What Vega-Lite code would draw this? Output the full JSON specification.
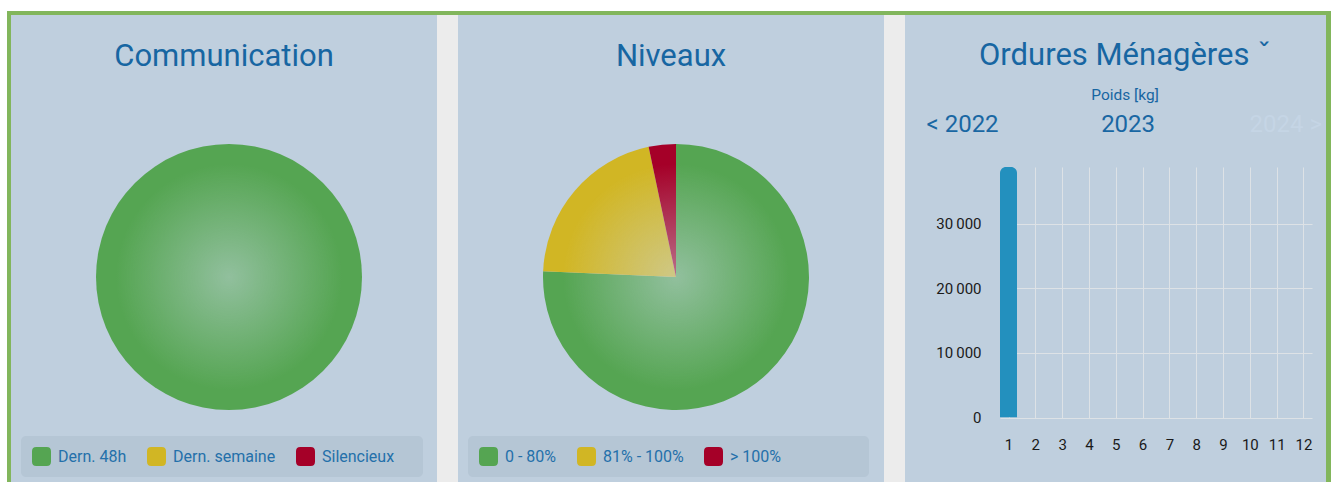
{
  "$schema": "https://vega.github.io/schema/vega-lite/v6.json",
  "background": "#bfcfde",
  "padding": 0,
  "spacing": 0,
  "config": {
    "font": "Roboto",
    "view": {"stroke": null},
    "concat": {"spacing": 0}
  },
  "resolve": {"scale": {"color": "independent"}, "legend": {"color": "independent"}},
  "datasets": {
    "none": [],
    "glow": [{"disque": "centre"}],
    "communication": [
      {"statut": "Dern. 48h", "capteurs": 100},
      {"statut": "Dern. semaine", "capteurs": 0},
      {"statut": "Silencieux", "capteurs": 0}
    ],
    "niveaux": [
      {"niveau": "0 - 80%", "capteurs": 75.7},
      {"niveau": "81% - 100%", "capteurs": 21.0},
      {"niveau": "> 100%", "capteurs": 3.3}
    ],
    "poids": [
      {"mois": 1, "kg": 38750},
      {"mois": 2, "kg": null},
      {"mois": 3, "kg": null},
      {"mois": 4, "kg": null},
      {"mois": 5, "kg": null},
      {"mois": 6, "kg": null},
      {"mois": 7, "kg": null},
      {"mois": 8, "kg": null},
      {"mois": 9, "kg": null},
      {"mois": 10, "kg": null},
      {"mois": 11, "kg": null},
      {"mois": 12, "kg": null}
    ]
  },
  "hconcat": [
    {"width": 7, "height": 482, "data": {"name": "none"}, "mark": "rect", "view": {"fill": "#ffffff"}},
    {
      "spacing": 0,
      "resolve": {"scale": {"color": "independent"}, "legend": {"color": "independent"}},
      "vconcat": [
        {"width": 1324, "height": 11, "data": {"name": "none"}, "mark": "rect", "view": {"fill": "#ffffff"}},
        {"width": 1324, "height": 4, "data": {"name": "none"}, "mark": "rect", "view": {"fill": "#82b65c"}},
        {
          "spacing": 0,
          "resolve": {"scale": {"color": "independent"}, "legend": {"color": "independent"}},
          "hconcat": [
            {"width": 4, "height": 467, "data": {"name": "none"}, "mark": "rect", "view": {"fill": "#82b65c"}},
            {
              "width": 426,
              "height": 467,
              "title": {"text": "Communication", "offset": -58, "fontSize": 31, "fontWeight": "normal", "color": "#1766a2", "anchor": "middle"},
              "layer": [
                {
                  "data": {"name": "communication"},
                  "mark": {"type": "arc", "outerRadius": 133, "xOffset": 5, "yOffset": 28.5},
                  "encoding": {
                    "theta": {"field": "capteurs", "type": "quantitative", "stack": true},
                    "order": {"field": "capteurs", "sort": "descending"},
                    "color": {
                      "field": "statut", "type": "nominal",
                      "scale": {"domain": ["Dern. 48h", "Dern. semaine", "Silencieux"], "range": ["#55a552", "#d1b624", "#a50028"]},
                      "legend": {
                        "orient": "none", "legendX": 10, "legendY": 421, "direction": "horizontal",
                        "symbolType": "M-1,-0.55Q-1,-1,-0.55,-1L0.55,-1Q1,-1,1,-0.55L1,0.55Q1,1,0.55,1L-0.55,1Q-1,1,-1,0.55Z",
                        "symbolSize": 361, "symbolStrokeWidth": 0, "symbolOpacity": 1,
                        "labelFontSize": 16, "labelColor": "#2470aa", "labelOffset": 7, "columnPadding": 20,
                        "padding": 11, "fillColor": "#b5c6d5", "cornerRadius": 5,
                        "title": "\u2800\u2800\u2800", "titleOrient": "right", "titlePadding": 0, "titleFontSize": 8.2, "titleColor": "#b5c6d5"
                      }
                    }
                  }
                },
                {
                  "data": {"name": "glow"},
                  "mark": {
                    "type": "arc", "theta": 0, "theta2": 6.2832, "outerRadius": 133, "xOffset": 5, "yOffset": 28.5,
                    "fill": {"gradient": "radial", "x1": 0.5, "y1": 0.5, "r1": 0, "x2": 0.5, "y2": 0.5, "r2": 0.5,
                      "stops": [{"offset": 0, "color": "rgba(205,218,232,0.5)"}, {"offset": 0.85, "color": "rgba(205,218,232,0)"}, {"offset": 1, "color": "rgba(205,218,232,0)"}]}
                  },
                  "encoding": {}
                }
              ]
            },
            {"width": 21, "height": 467, "data": {"name": "none"}, "mark": "rect", "view": {"fill": "#ececec"}},
            {
              "width": 426,
              "height": 467,
              "title": {"text": "Niveaux", "offset": -58, "fontSize": 31, "fontWeight": "normal", "color": "#1766a2", "anchor": "middle"},
              "layer": [
                {
                  "data": {"name": "niveaux"},
                  "mark": {"type": "arc", "outerRadius": 133, "xOffset": 5, "yOffset": 28.5},
                  "encoding": {
                    "theta": {"field": "capteurs", "type": "quantitative", "stack": true},
                    "order": {"field": "capteurs", "sort": "descending"},
                    "color": {
                      "field": "niveau", "type": "nominal",
                      "scale": {"domain": ["0 - 80%", "81% - 100%", "> 100%"], "range": ["#55a552", "#d1b624", "#a50028"]},
                      "legend": {
                        "orient": "none", "legendX": 10, "legendY": 421, "direction": "horizontal",
                        "symbolType": "M-1,-0.55Q-1,-1,-0.55,-1L0.55,-1Q1,-1,1,-0.55L1,0.55Q1,1,0.55,1L-0.55,1Q-1,1,-1,0.55Z",
                        "symbolSize": 361, "symbolStrokeWidth": 0, "symbolOpacity": 1,
                        "labelFontSize": 16, "labelColor": "#2470aa", "labelOffset": 7, "columnPadding": 20,
                        "padding": 11, "fillColor": "#b5c6d5", "cornerRadius": 5,
                        "title": "\u2800\u2800\u2800\u2800\u2800\u2800\u2800\u2800\u2800\u2800\u2800", "titleOrient": "right", "titlePadding": 0, "titleFontSize": 9.0, "titleColor": "#b5c6d5"
                      }
                    }
                  }
                },
                {
                  "data": {"name": "glow"},
                  "mark": {
                    "type": "arc", "theta": 0, "theta2": 6.2832, "outerRadius": 133, "xOffset": 5, "yOffset": 28.5,
                    "fill": {"gradient": "radial", "x1": 0.5, "y1": 0.5, "r1": 0, "x2": 0.5, "y2": 0.5, "r2": 0.5,
                      "stops": [{"offset": 0, "color": "rgba(205,218,232,0.5)"}, {"offset": 0.85, "color": "rgba(205,218,232,0)"}, {"offset": 1, "color": "rgba(205,218,232,0)"}]}
                  },
                  "encoding": {}
                }
              ]
            },
            {"width": 21, "height": 467, "data": {"name": "none"}, "mark": "rect", "view": {"fill": "#ececec"}},
            {
              "spacing": 0,
              "vconcat": [
                {"width": 421, "height": 24, "data": {"name": "none"}, "mark": "rect"},
                {
                  "spacing": 0,
                  "hconcat": [
                    {"width": 21, "height": 10, "data": {"name": "none"}, "mark": "rect"},
                    {
                      "width": 312,
                      "height": 250.6,
                      "data": {"name": "poids"},
                      "title": {
                        "text": "Ordures Ménagères    ˇ", "subtitle": "Poids [kg]\u00a0\u00a0\u00a0\u00a0\u00a0\u00a0",
                        "anchor": "middle", "frame": "group", "dx": -31, "offset": 8,
                        "fontSize": 31, "fontWeight": "normal", "color": "#1766a2",
                        "subtitleFontSize": 15.5, "subtitleColor": "#1766a2", "subtitlePadding": 16
                      },
                      "resolve": {"axis": {"x": "independent"}},
                      "layer": [
                        {
                          "mark": {"type": "bar", "width": 17, "color": "#2390be", "cornerRadiusTopLeft": 6, "cornerRadiusTopRight": 6},
                          "encoding": {
                            "x": {
                              "field": "mois", "type": "ordinal",
                              "scale": {"type": "point", "domain": [1, 2, 3, 4, 5, 6, 7, 8, 9, 10, 11, 12], "padding": 0.317},
                              "axis": {
                                "title": "2023", "titleX": 127.6, "titleY": -286.6, "titleAlign": "center", "titleBaseline": "alphabetic",
                                "titleFontSize": 24, "titleFontWeight": "normal", "titleColor": "#1967a3",
                                "labelAngle": 0, "labelFontSize": 15, "labelColor": "#1a1a1a", "labelPadding": 20,
                                "ticks": false, "domain": false, "grid": true, "gridColor": "#dde2e6", "gridWidth": 1
                              }
                            },
                            "y": {
                              "field": "kg", "type": "quantitative",
                              "scale": {"domain": [0, 38750], "nice": false},
                              "axis": {
                                "title": "< 2022", "titleX": -74, "titleY": -36, "titleAngle": 0, "titleAlign": "left", "titleBaseline": "alphabetic",
                                "titleFontSize": 24, "titleFontWeight": "normal", "titleColor": "#1967a3",
                                "values": [0, 10000, 20000, 30000],
                                "labelExpr": "replace(format(datum.value, ','), ',', '\u2009')",
                                "labelFontSize": 15, "labelColor": "#1a1a1a", "labelPadding": 19,
                                "ticks": false, "domain": false, "grid": true, "gridColor": "#dde2e6", "gridWidth": 1
                              }
                            }
                          }
                        },
                        {
                          "mark": {"type": "point", "opacity": 0},
                          "encoding": {
                            "x": {
                              "field": "mois", "type": "ordinal",
                              "axis": {
                                "orient": "top", "labels": false, "ticks": false, "domain": false, "grid": false,
                                "title": "2024 >", "titleX": 249, "titleY": -36, "titleAlign": "left", "titleBaseline": "alphabetic",
                                "titleFontSize": 24, "titleFontWeight": "normal", "titleColor": "#c5d5e5"
                              }
                            }
                          }
                        }
                      ]
                    }
                  ]
                }
              ]
            },
            {"width": 5, "height": 467, "data": {"name": "none"}, "mark": "rect", "view": {"fill": "#82b65c"}}
          ]
        }
      ]
    },
    {"width": 5, "height": 482, "data": {"name": "none"}, "mark": "rect", "view": {"fill": "#ffffff"}}
  ]
}
